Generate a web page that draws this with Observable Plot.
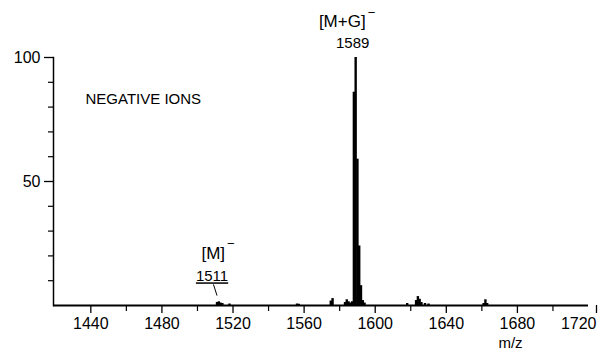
<!DOCTYPE html>
<html>
<head>
<meta charset="utf-8">
<script src="https://cdn.jsdelivr.net/npm/d3@7"></script>
<script src="https://cdn.jsdelivr.net/npm/@observablehq/plot@0.6"></script>
<style>
  html, body { margin: 0; padding: 0; background: #fff; }
</style>
</head>
<body>
<div id="chart"></div>
<script>
// m/z of each observed peak and its relative intensity (%)
const mz =        [1511, 1512, 1513, 1514, 1518, 1556, 1557, 1575, 1576, 1583, 1584, 1585, 1586, 1587, 1588, 1589, 1590, 1591, 1592, 1593, 1594, 1618, 1623, 1624, 1625, 1626, 1628, 1630, 1661, 1662, 1663];
const intensity = [1.2,  1.5,  1.0,  0.8,  0.6,  0.6,  0.5,  1.8,  2.8,  1.2,  2.3,  1.5,  1.0,  1.5,  86,   100,  59,   24,   8,    2,    1,    0.8,  2.0,  3.6,  2.5,  1.2,  0.8,  0.6,  0.8,  2.3,  0.8];

// axis ticks
const xMajorTicks = [1440, 1480, 1520, 1560, 1600, 1640, 1680, 1720];
const xMinorTicks = [1460, 1500, 1540, 1580, 1620, 1660, 1700];
const yMajorTicks = [50, 100];
const yMinorTicks = [10, 20, 30, 40, 60, 70, 80, 90];

// annotations
const panelTitle = "NEGATIVE IONS";
const xLabel = "m/z";
const labelledPeaks = [
  {mz: 1589, name: "[M+G]", number: "1589"},
  {mz: 1511, name: "[M]", number: "1511"}
];

const data = mz.map((m, i) => ({mz: m, i: intensity[i]}));
const main = labelledPeaks[0];
const molecular = labelledPeaks[1];

const font = "Liberation Sans, Arial, sans-serif";
const fmt = d3.format("d");

const chart = Plot.plot({
  width: 598,
  height: 353,
  marginLeft: 53,
  marginRight: 10,
  marginTop: 57,
  marginBottom: 48,
  style: {fontFamily: font, fontSize: "16px", color: "#000", background: "#fff"},
  x: {domain: [1419, 1720]},
  y: {domain: [0, 100]},
  marks: [
    Plot.ruleX(data, {x: "mz", y: "i", stroke: "#000", strokeWidth: 2.4}),
    Plot.ruleY([0], {stroke: "#000", strokeWidth: 2}),
    Plot.frame({anchor: "left", stroke: "#000", strokeWidth: 1.5}),
    // x axis
    Plot.axisX(xMajorTicks.slice(0, -1), {tickSize: 8, tickPadding: 4, tickFormat: fmt, fontSize: 16, label: null, stroke: "#000", strokeWidth: 1.3}),
    Plot.axisX(xMajorTicks.slice(-1), {tickSize: 8, tickPadding: 4, tickFormat: fmt, fontSize: 16, label: null, stroke: "#000", strokeWidth: 1.3, textAnchor: "end", dx: 8}),
    Plot.axisX(xMinorTicks, {tickSize: 6, tickFormat: () => "", label: null, stroke: "#000", strokeWidth: 1.2}),
    // y axis
    Plot.axisY(yMajorTicks, {tickSize: 9, tickPadding: 4, tickFormat: fmt, fontSize: 16, label: null, stroke: "#000", strokeWidth: 1.3}),
    Plot.axisY(yMinorTicks, {tickSize: 5, tickFormat: () => "", label: null, stroke: "#000", strokeWidth: 1.2}),
    // title inside the panel
    Plot.text([panelTitle], {frameAnchor: "top-left", text: d => d, dx: 32, dy: 42, textAnchor: "start", lineAnchor: "middle", fontSize: 15, fill: "#000"}),
    // x label
    Plot.text([xLabel], {frameAnchor: "bottom-right", text: d => d, dx: -78, dy: 38, textAnchor: "middle", lineAnchor: "middle", fontSize: 15, fill: "#000"}),
    // main peak label
    Plot.text([main], {x: "mz", y: 100, text: "name", dx: 10, dy: -36, textAnchor: "end", fontSize: 17, fill: "#000"}),
    Plot.text([main], {x: "mz", y: 100, text: () => "−", dx: 12, dy: -45, textAnchor: "start", fontSize: 13, fill: "#000"}),
    Plot.text([main], {x: "mz", y: 100, text: "number", dx: -3, dy: -14, fontSize: 15, fill: "#000"}),
    // molecular ion label
    Plot.text([molecular], {x: "mz", y: 0, text: "name", dx: 8, dy: -52, textAnchor: "end", fontSize: 17, fill: "#000"}),
    Plot.text([molecular], {x: "mz", y: 0, text: () => "−", dx: 10, dy: -62, textAnchor: "start", fontSize: 13, fill: "#000"}),
    Plot.text([molecular], {x: "mz", y: 0, text: "number", dx: -5, dy: -29, fontSize: 15, fill: "#000"}),
    Plot.link([molecular], {x1: d => d.mz - 2, y1: 8.5, x2: d => d.mz, y2: 4, stroke: "#000", strokeWidth: 1})
  ]
});

d3.select(chart).selectAll("text")
  .filter(function() { return this.textContent === molecular.number; })
  .style("text-decoration", "underline");

document.getElementById("chart").appendChild(chart);
</script>
</body>
</html>
